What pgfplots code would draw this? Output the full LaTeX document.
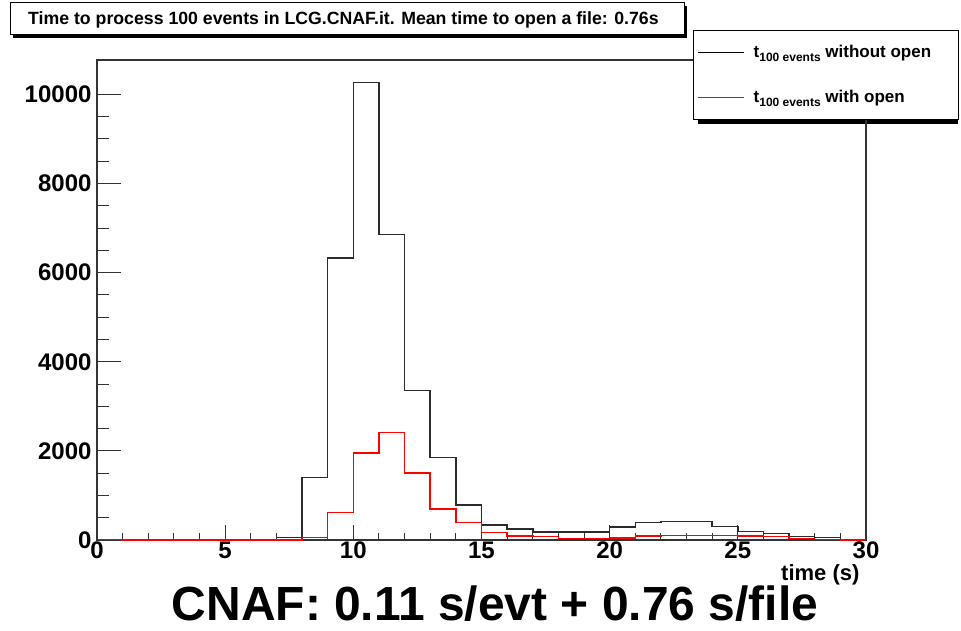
\documentclass[border=0pt]{standalone}
\usepackage{pgfplots}
\pgfplotsset{compat=1.18}
\usepackage{fontspec}
\setmainfont{Liberation Sans}
\usetikzlibrary{shadows}
\definecolor{histblack}{HTML}{2B2B2B}
\begin{document}
\begin{tikzpicture}
\path[use as bounding box] (0,0) rectangle (961pt,630pt);
% title box
\node[draw=black, line width=1pt, fill=white, inner sep=0pt,
      minimum width=674pt, minimum height=32pt,
      drop shadow={shadow xshift=3pt, shadow yshift=-3pt, opacity=1, fill=black}]
  at (347pt,611pt) {};
\node[anchor=base west, inner sep=0pt] at (28pt,605pt) {\bfseries\fontsize{17.7}{18}\selectfont Time to process 100 events in LCG.CNAF.it. Mean time to open a file: 0.76s};
% legend shadow
\fill[black] (698pt,506pt) rectangle (958pt,595pt);
\begin{axis}[
  at={(97pt,90pt)}, anchor=south west,
  scale only axis, width=769pt, height=480pt,
  xmin=0, xmax=30, ymin=0, ymax=10771,
  axis line style={line width=1.3pt, black!80},
  xtick={0,5,...,30}, minor x tick num=4,
  ytick=\empty,
  xtick pos=left, tick align=inside,
  major tick length=15pt, minor tick length=7.5pt,
  tick style={line width=1pt, black!80},
  /pgf/number format/assume math mode=true,
  ticklabel style={font=\fontsize{24}{24}\selectfont\bfseries},
  xticklabel style={yshift=2pt},
  xlabel={time (s)},
  xlabel style={font=\fontsize{22}{22}\selectfont\bfseries, at={(axis description cs:1,-0.0854)}, anchor=base east, xshift=-3pt},
  legend image code/.code={\draw[#1, line width=1.2pt] (0pt,0pt) -- (46pt,0pt);},
  legend style={at={(axis description cs:0.775,1.0625)}, anchor=north west,
    draw=black, line width=1pt, fill=white, inner xsep=4pt, inner ysep=10pt,
    row sep=21pt, nodes={inner sep=5pt},
    /tikz/every odd column/.append style={column sep=4pt},
    font=\fontsize{17}{20}\selectfont\bfseries},
  legend cell align=left,
]
\addplot[const plot mark left, histblack, line width=1.5pt, forget plot] coordinates {
(0,0) (1,0) (2,0) (3,0) (4,0) (5,0) (6,0) (7,60) (8,1400) (9,6330) (10,10270)
(11,6850) (12,3350) (13,1850) (14,790) (15,337) (16,247) (17,180) (18,180) (19,180)
(20,290) (21,390) (22,412) (23,412) (24,300) (25,187) (26,150) (27,75) (28,52) (29,0) (30,0)};
\addplot[const plot mark left, red, line width=1.5pt, forget plot] coordinates {
(0,0) (1,0) (2,0) (3,0) (4,0) (5,0) (6,0) (7,0) (8,60) (9,614) (10,1948)
(11,2412) (12,1498) (13,697) (14,390) (15,165) (16,90) (17,75) (18,37) (19,37)
(20,45) (21,90) (22,105) (23,105) (24,105) (25,90) (26,75) (27,37) (28,15) (29,0) (30,0)};
\addlegendimage{black, line width=1.2pt}
\addlegendentry{\makebox[196pt][l]{t\raisebox{-4pt}{\fontsize{12}{12}\selectfont 100 events} without open}}
\addlegendimage{red, line width=1.2pt}
\addlegendentry{\makebox[196pt][l]{t\raisebox{-4pt}{\fontsize{12}{12}\selectfont 100 events} with open}}
\end{axis}
\begin{axis}[
  at={(97pt,90pt)}, anchor=south west,
  scale only axis, width=769pt, height=480pt,
  xmin=0, xmax=30, ymin=0, ymax=10771,
  hide x axis, axis y line*=left,
  axis line style={line width=1.3pt, black!80},
  ytick={0,2000,...,10000}, minor y tick num=3,
  tick align=inside,
  major tick length=24pt, minor tick length=12pt,
  tick style={line width=1pt, black!80},
  scaled y ticks=false,
  /pgf/number format/1000 sep={},
  /pgf/number format/assume math mode=true,
  yticklabel style={font=\fontsize{24}{24}\selectfont\bfseries, xshift=-2pt},
]
\end{axis}
\node[anchor=base] at (495pt,10pt) {\bfseries\resizebox{646pt}{!}{CNAF: 0.11 s/evt + 0.76 s/file}};
\end{tikzpicture}
\end{document}
